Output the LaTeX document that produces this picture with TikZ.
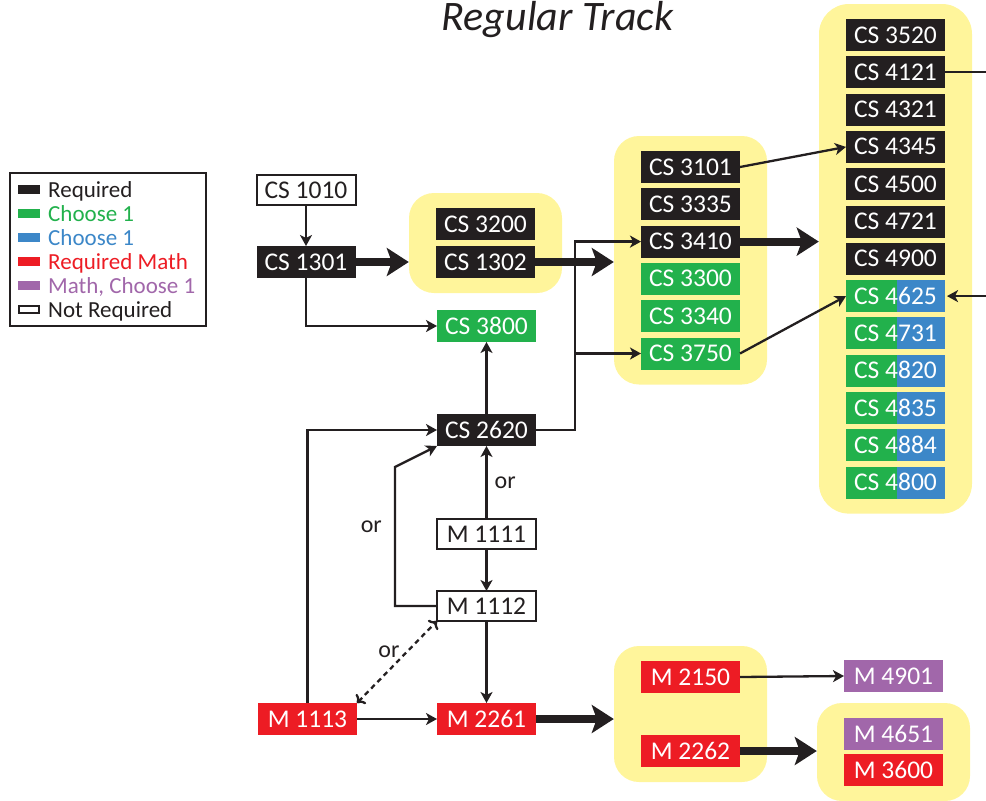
\documentclass[tikz,border=0pt]{standalone}
\usepackage{fontspec}
\setmainfont{Carlito}
\usepackage{tikz}
\usetikzlibrary{positioning,fit,backgrounds,arrows.meta}

\definecolor{req}{HTML}{231F20}
\definecolor{pickg}{HTML}{22B14C}
\definecolor{pickb}{HTML}{3C87C8}
\definecolor{reqm}{HTML}{ED1C24}
\definecolor{pickm}{HTML}{A167AA}
\definecolor{hilite}{HTML}{FFF59B}

\tikzset{
  course/.style={rectangle, minimum width=99pt, minimum height=32pt, inner xsep=2pt,
    inner ysep=0pt, outer sep=0pt, text height=16pt, text depth=0pt, text=white,
    font=\fontsize{25.5}{25.5}\selectfont},
  reqbox/.style={course, fill=req},
  chsbox/.style={course, fill=pickg},
  splitbox/.style={course, fill=pickg, path picture={
    \fill[pickb] ([xshift=51pt]path picture bounding box.south west)
      rectangle (path picture bounding box.north east);}},
  mathbox/.style={course, fill=reqm},
  mchsbox/.style={course, fill=pickm},
  optbox/.style={course, fill=white, draw=req, line width=2pt, text=req, minimum height=30pt},
  group/.style={rectangle, rounded corners=25pt, fill=hilite, inner xsep=27pt, inner ysep=15pt},
  arr/.style={-{Stealth[length=11pt,width=12pt,inset=3pt]}, line width=2.3pt, draw=req},
  fat/.style={-{Stealth[length=22pt,width=28pt,inset=5pt]}, line width=8pt, draw=req},
  orlbl/.style={font=\fontsize{24}{24}\selectfont, text=req, inner sep=0pt},
  legsw/.style={rectangle, minimum width=22pt, minimum height=9.5pt, inner sep=0pt, outer sep=0pt},
  legtxt/.style={font=\fontsize{23}{23}\selectfont, inner sep=0pt, text height=15pt, text depth=0pt}
}

\begin{document}
\begin{tikzpicture}[x=1pt,y=-1pt]
\useasboundingbox (0,0) rectangle (986,801);
% title
\node[font=\fontsize{42}{42}\selectfont\itshape, text=req, anchor=base] (title) at (557.5,30) {Regular Track};
% legend
\node[draw=req, line width=2pt, minimum width=196pt, minimum height=153pt] (legend) at (108,249.5) {};
\node[legsw, fill=req] (k1) at (29,189.5) {};
\node[legsw, fill=pickg] (k2) [below=14.5pt of k1] {};
\node[legsw, fill=pickb] (k3) [below=14.5pt of k2] {};
\node[legsw, fill=reqm] (k4) [below=14.5pt of k3] {};
\node[legsw, fill=pickm] (k5) [below=14.5pt of k4] {};
\node[legsw, fill=white, draw=req, line width=2pt, minimum width=20pt, minimum height=7.5pt] (k6) [below=15.5pt of k5] {};
\node[legtxt, text=req] (t1) [right=8pt of k1] {Required};
\node[legtxt, text=pickg] (t2) [right=8pt of k2] {Choose 1};
\node[legtxt, text=pickb] (t3) [right=8pt of k3] {Choose 1};
\node[legtxt, text=reqm] (t4) [right=8pt of k4] {Required Math};
\node[legtxt, text=pickm] (t5) [right=8pt of k5] {Math, Choose 1};
\node[legtxt, text=req] (t6) [right=9pt of k6] {Not Required};
% first courses
\node[optbox] (c1010) at (306,190) {CS 1010};
\node[reqbox] (c1301) at (306,262) {CS 1301};
\node[reqbox] (c3200) at (485.5,224) {CS 3200};
\node[reqbox] (c1302) [below=6pt of c3200] {CS 1302};
\node[chsbox] (c3800) at (486.5,326) {CS 3800};
\node[reqbox] (c2620) at (486.5,430) {CS 2620};
% third year column
\node[reqbox] (c3101) at (690.5,167) {CS 3101};
\node[reqbox] (c3335) [below=5.3pt of c3101] {CS 3335};
\node[reqbox] (c3410) [below=5.3pt of c3335] {CS 3410};
\node[chsbox] (c3300) [below=5.3pt of c3410] {CS 3300};
\node[chsbox] (c3340) [below=5.3pt of c3300] {CS 3340};
\node[chsbox] (c3750) [below=5.3pt of c3340] {CS 3750};
% upper division column
\node[reqbox] (c3520) at (895.5,35) {CS 3520};
\node[reqbox] (c4121) [below=5.3pt of c3520] {CS 4121};
\node[reqbox] (c4321) [below=5.3pt of c4121] {CS 4321};
\node[reqbox] (c4345) [below=5.3pt of c4321] {CS 4345};
\node[reqbox] (c4500) [below=5.3pt of c4345] {CS 4500};
\node[reqbox] (c4721) [below=5.3pt of c4500] {CS 4721};
\node[reqbox] (c4900) [below=5.3pt of c4721] {CS 4900};
\node[splitbox] (c4625) [below=5.3pt of c4900] {CS 4625};
\node[splitbox] (c4731) [below=5.3pt of c4625] {CS 4731};
\node[splitbox] (c4820) [below=5.3pt of c4731] {CS 4820};
\node[splitbox] (c4835) [below=5.3pt of c4820] {CS 4835};
\node[splitbox] (c4884) [below=5.3pt of c4835] {CS 4884};
\node[splitbox] (c4800) [below=5.3pt of c4884] {CS 4800};
% math
\node[optbox] (m1111) at (486.5,534) {M 1111};
\node[optbox] (m1112) at (486.5,606) {M 1112};
\node[mathbox] (m1113) at (307.5,719) {M 1113};
\node[mathbox] (m2261) at (486.5,719) {M 2261};
\node[mathbox] (m2150) at (690.5,677) {M 2150};
\node[mathbox] (m2262) at (690.5,751) {M 2262};
\node[mchsbox] (m4901) at (893.5,676) {M 4901};
\node[mchsbox] (m4651) at (893.5,734) {M 4651};
\node[mathbox] (m3600) [below=4pt of m4651] {M 3600};
% yellow groups
\begin{scope}[on background layer]
\node[group, fit=(c3200)(c1302)] (g1) {};
\node[group, fit=(c3101)(c3750)] (g2) {};
\node[group, fit=(c3520)(c4800), rounded corners=30pt] (g3) {};
\node[group, fit=(m2150)(m2262)] (g4) {};
\node[group, fit=(m4651)(m3600)] (g5) {};
\end{scope}
\coordinate (rim) at (986,0);
% the arrows and labels
\draw[arr] (c1010.south) -- (c1301.north);
\draw[fat] (c1301.east) -- (c1301.east -| g1.west);
\draw[fat] (c1302.east) -- (c1302.east -| g2.west);
\draw[fat] (c3410.east) -- (c3410.east -| g3.west);
\draw[fat] (m2261.east) -- (m2261.east -| g4.west);
\draw[fat] (m2262.east) -- (m2262.east -| g5.west);
\draw[arr] (c1301.south) |- (c3800.west);
\draw[arr] (c2620.north) -- (c3800.south);
\draw[arr] (c2620.east) -- ++(39,0) |- (c3410.west);
\draw[arr] (c2620.east) -- ++(39,0) |- (c3750.west);
\draw[arr] (c3101.east) -- (c4345.west);
\draw[arr] (c3750.east) -- (c4625.west);
\draw[line width=2.3pt, draw=req] (c4121.east) -- (c4121.east -| rim);
\draw[arr, shorten >=2pt] (c4625.east -| rim) -- (c4625.east);
\draw[arr] (m1111.north) -- node[orlbl, right=7pt] {or} (c2620.south);
\draw[arr] (m1111.south) -- (m1112.north);
\draw[arr] (m1112.west) -- ++(-42,0) -- ++(0,-139) node[orlbl, pos=.57, left=12pt] {or} -- (c2620.south west);
\draw[arr] (m1113.north) |- (c2620.west);
\draw[arr, <->, dash pattern=on 5pt off 4pt] (m1113.north east) -- node[orlbl, pos=.62, left=6pt] {or} (m1112.south west);
\draw[arr] (m1112.south) -- (m2261.north);
\draw[arr] (m1113.east) -- (m2261.west);
\draw[arr] (m2150.east) -- (m4901.west);
\end{tikzpicture}
\end{document}
